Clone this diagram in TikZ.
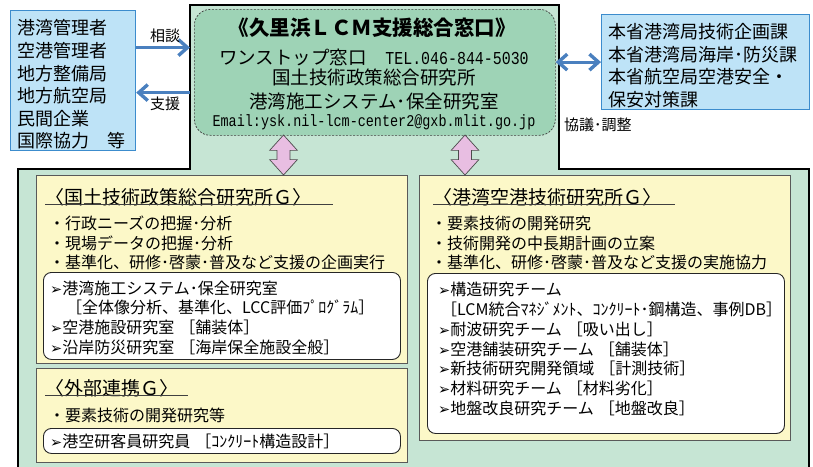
\documentclass[tikz,border=0pt]{standalone}
\usepackage{fontspec}
\setmainfont{Noto Sans CJK JP}
\newfontfamily\symfont{DejaVu Sans}
\newfontfamily\mailfont[FakeStretch=0.82]{Liberation Mono}
\usetikzlibrary{arrows.meta,shapes.arrows}
\definecolor{outergreen}{HTML}{C6E5D4}
\definecolor{windowgreen}{HTML}{9ED3B6}
\definecolor{paleblue}{HTML}{BEE3F7}
\definecolor{edgeblue}{HTML}{3C8CCD}
\definecolor{arrowblue}{HTML}{4A80BF}
\definecolor{paleyellow}{HTML}{FCF8C8}
\definecolor{pinkfill}{HTML}{E8BEE2}
\newcommand\teamtick{{\symfont\fontsize{14.5}{19.7}\selectfont ➢}}
\tikzset{
  bluebox/.style={draw=edgeblue, line width=1.2pt, fill=paleblue, anchor=north west, inner sep=0pt},
  bluetext/.style={anchor=west, inner sep=0pt, align=left, font=\fontsize{18}{22.6}\selectfont},
  window/.style={draw=black!75, dash pattern=on 2pt off 1.5pt, line width=0.7pt,
    fill=windowgreen, rounded corners=16pt, anchor=north west, inner sep=0pt,
    minimum width=361, minimum height=126},
  groupbox/.style={draw=black!65, line width=0.9pt, fill=paleyellow, anchor=north west, inner sep=0pt},
  teambox/.style={draw=black!85, line width=0.9pt, fill=white, rounded corners=8pt,
    anchor=north west, inner sep=0pt},
  windowtext/.style={inner sep=0pt, font=\fontsize{18.5}{18.5}\selectfont},
  grouphead/.style={anchor=west, inner sep=0pt, align=left, font=\fontsize{19}{19}\selectfont},
  bodytext/.style={anchor=west, inner sep=0pt, align=left, font=\fontsize{16}{19.7}\selectfont},
  counsel/.style={inner sep=3pt, font=\fontsize{15}{15}\selectfont},
  barb/.tip={Straight Barb[length=9pt,width=16pt,line width=3.4pt]},
  link/.style={draw=arrowblue, line width=3.2pt, -barb},
  twoway/.style={double arrow, draw=black!70, line width=0.7pt, fill=pinkfill, rotate=90,
    inner xsep=0pt, inner ysep=6.2pt, minimum height=40, double arrow head extend=7.3pt,
    double arrow tip angle=84}
}
\begin{document}
\begin{tikzpicture}[x=1pt,y=-1pt]
  \useasboundingbox (0,0) rectangle (813,466);
  \clip (0,0) rectangle (813,466);
  \draw[line width=1.6pt, fill=outergreen]
    (190,5) -- (559,5) -- (559,169) -- (809,169) -- (809,480)
    -- (18,480) -- (18,169) -- (190,169) -- cycle;

  \node[window] (window) at (194,9) {};
  \node[windowtext, font=\fontsize{20.5}{20.5}\selectfont\bfseries] (title) at (372,28) {《久里浜ＬＣＭ支援総合窓口》};
  \node[windowtext] (tel) at (374,57) {ワンストップ窓口　{\mailfont\fontsize{18.2}{18.2}\selectfont TEL.046-844-5030}};
  \node[windowtext] (nilim) at (374,77) {国土技術政策総合研究所};
  \node[windowtext] (lab) at (374,101) {港湾施工システム･保全研究室};
  \node[windowtext, font=\mailfont\fontsize{16.4}{16.4}\selectfont] (mail) at (374,122) {Email:ysk.nil-lcm-center2@gxb.mlit.go.jp};

  \node[bluebox, minimum width=125, minimum height=140] (users) at (10,10) {};
  \node[bluetext] (userlist) at (17,84.5)
    {港湾管理者\\空港管理者\\地方整備局\\地方航空局\\民間企業\\国際協力　等};
  \node[bluebox, minimum width=208, minimum height=95] (agencies) at (601,14) {};
  \node[bluetext] (agencylist) at (608,65.5)
    {本省港湾局技術企画課\\本省港湾局海岸･防災課\\本省航空局空港安全・\\保安対策課};
  \node[counsel, anchor=west] (consult) at (561,125) {協議･調整};

  \begin{scope}[link]
    \draw[shorten >=4pt] ([yshift=33pt]users.east) -- ([yshift=33pt]users.east -| window.west)
      node[counsel, midway, above] (ask) {相談};
    \draw[shorten <=4pt] ([yshift=-12pt]users.east -| window.west) -- ([yshift=-12pt]users.east)
      node[counsel, midway, below] (help) {支援};
    \draw[barb-barb] (agencies.west -| window.east) -- (agencies.west);
  \end{scope}

  \node[groupbox, minimum width=371, minimum height=188] (nilimgroup) at (36,175) {};
  \node[groupbox, minimum width=371, minimum height=94] (outsidegroup) at (36,368) {};
  \node[groupbox, minimum width=371, minimum height=265] (parigroup) at (419,175) {};

  \node[twoway] (upleft) at (283.5,155) {};
  \node[twoway] (upright) at (465,155) {};

  \node[grouphead, text width=288] (nilimhead) at (45,197) {〈国土技術政策総合研究所Ｇ〉};
  \node[grouphead, text width=143] (outsidehead) at (45,388) {〈外部連携Ｇ〉};
  \node[grouphead, text width=242] (parihead) at (433,197) {〈港湾空港技術研究所Ｇ〉};
  \begin{scope}[line width=0.8pt, black!75]
    \draw ([yshift=2pt]nilimhead.south west) -- ([yshift=2pt]nilimhead.south east);
    \draw ([yshift=2pt]outsidehead.south west) -- ([yshift=2pt]outsidehead.south east);
    \draw ([yshift=2pt]parihead.south west) -- ([yshift=2pt]parihead.south east);
  \end{scope}

  \node[bodytext] (nilimtasks) at (49,243)
    {・行政ニーズの把握･分析\\・現場データの把握･分析\\・基準化、研修･啓蒙･普及など支援の企画実行};
  \node[bodytext] (outsidetasks) at (49,415) {・要素技術の開発研究等};
  \node[bodytext] (paritasks) at (431,243)
    {・要素技術の開発研究\\・技術開発の中長期計画の立案\\・基準化、研修･啓蒙･普及など支援の実施協力};

  \node[teambox, minimum width=357, minimum height=87] (nilimteambox) at (43,272) {};
  \node[teambox, minimum width=357, minimum height=25] (outsideteambox) at (43,428) {};
  \node[teambox, minimum width=357, minimum height=160] (pariteambox) at (427,273) {};

  \node[bodytext] (nilimteams) at (50,317.5)
    {\teamtick 港湾施工システム･保全研究室\\
     　［全体像分析、基準化、LCC評価ﾌﾟﾛｸﾞﾗﾑ］\\
     \teamtick 空港施設研究室\hspace{5pt}［舗装体］\\
     \teamtick 沿岸防災研究室\hspace{5pt}［海岸保全施設全般］};
  \node[bodytext] (outsideteams) at (50,441)
    {\teamtick 港空研客員研究員\hspace{5pt}［ｺﾝｸﾘｰﾄ構造設計］};
  \node[bodytext] (pariteams) at (438,349)
    {\teamtick 構造研究チーム\\
     \hspace*{3pt}［LCM統合ﾏﾈｼﾞﾒﾝﾄ、ｺﾝｸﾘｰﾄ･鋼構造、事例DB］\\
     \teamtick 耐波研究チーム\hspace{5pt}［吸い出し］\\
     \teamtick 空港舗装研究チーム\hspace{5pt}［舗装体］\\
     \teamtick 新技術研究開発領域\hspace{5pt}［計測技術］\\
     \teamtick 材料研究チーム\hspace{5pt}［材料劣化］\\
     \teamtick 地盤改良研究チーム\hspace{5pt}［地盤改良］};
\end{tikzpicture}
\end{document}
